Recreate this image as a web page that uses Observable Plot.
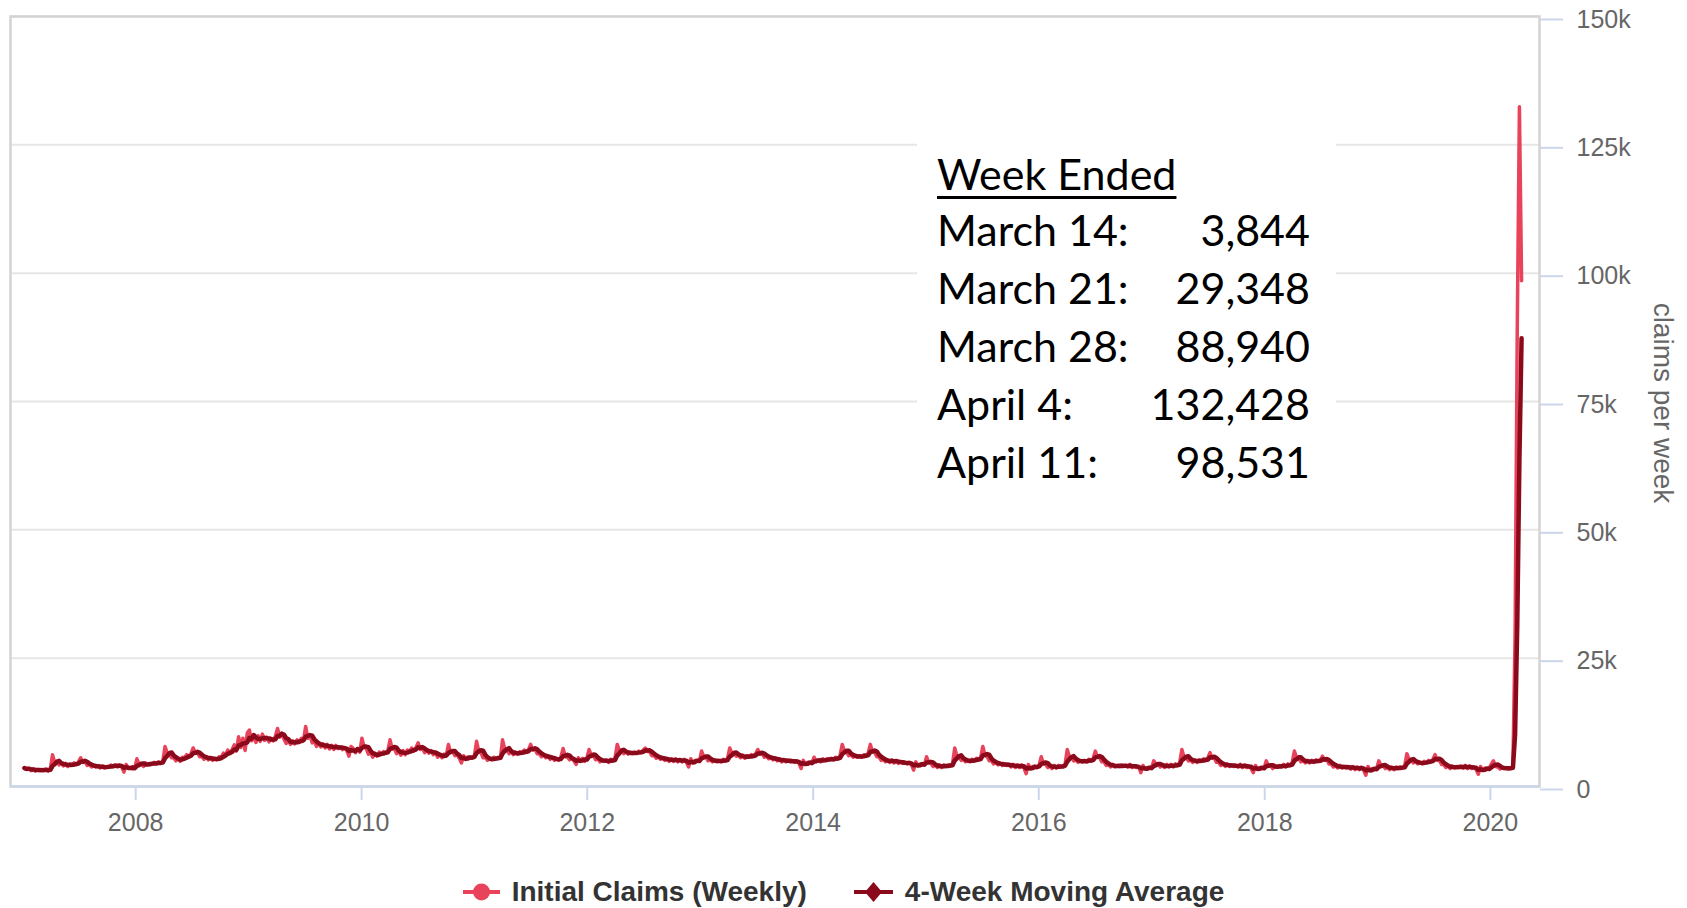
<!DOCTYPE html>
<html>
<head>
<meta charset="utf-8">
<script src="https://cdn.jsdelivr.net/npm/d3@7"></script>
<script src="https://cdn.jsdelivr.net/npm/@observablehq/plot@0.6"></script>
<style>
  html, body { margin: 0; padding: 0; background: #fff; }
  #wrap { position: relative; width: 1687px; height: 908px; overflow: hidden; font-family: "Liberation Sans", Arial, sans-serif; }
  #chart svg { display: block; }
  #ytitle { position: absolute; left: 1663px; top: 403px; transform: translate(-50%, -50%); writing-mode: vertical-rl; font-size: 28px; line-height: 1; color: #666; white-space: nowrap; }
  #note { position: absolute; left: 917px; top: 120px; width: 419px; height: 385px; background: #fff; box-sizing: border-box; padding: 25px 0 0 20px; font-family: Lato, "Open Sans", sans-serif; font-size: 43px; line-height: 58px; color: #000; }
  #note .grid { display: grid; grid-template-columns: auto 1fr; width: 373px; }
  #note .head { grid-column: 1 / span 2; text-decoration: underline; text-decoration-thickness: 3px; text-underline-offset: 6px; margin-bottom: -2px; }
  #note .val { text-align: right; }
  #legend { position: absolute; left: 0; top: 872px; width: 1687px; height: 40px; display: flex; justify-content: center; align-items: center; font-weight: bold; font-size: 28px; color: #333; }
  #legend .item { display: flex; align-items: center; }
  #legend .item svg { margin-right: 12px; }
  #legend .item + .item { margin-left: 47px; }
</style>
</head>
<body>
<div id="wrap">
  <div id="chart"></div>
  <div id="ytitle"></div>
  <div id="note"><div class="grid"></div></div>
  <div id="legend"></div>
</div>
<script>
// Weekly initial claims, in thousands, one value per week ending Saturday, starting 2007-01-06
const firstWeekEnding = "2007-01-06";
const claimsK2007 = [3.6,3.3,3.5,3.1, 3.4,3.0,3.3,3.1, 3.3,3.1,3.4,3.0,3.5, 6.2,4.7,4.9,4.2, 4.5,4.0,4.5,3.9,4.4, 4.1,4.6,4.3,4.8, 5.6,4.7,4.9,4.1, 4.3,3.8,4.1,3.8,4.0, 3.6,4.0,3.6,3.9, 3.8,4.2,3.9,4.2,3.8, 4.2,3.8,2.8,4.3, 3.6,3.7,3.4,3.6];
const claimsK2008 = [5.4,4.3,4.4,3.9, 4.6,4.3,4.5,4.4, 4.7,4.4,4.8,4.5,5.0, 7.8,6.5,6.6,5.6, 5.6,5.0,5.5,4.9,5.7, 5.6,6.2,5.8,6.4, 7.5,6.5,6.6,5.8, 5.9,5.3,5.8,5.2,5.7, 5.1,5.5,5.2,5.8, 5.7,6.5,6.2,7.1,6.4, 7.2,8.1,6.9,9.7, 7.6,9.4,7.0,10.4];
const claimsK2009 = [11.0,8.9,9.8,8.6, 9.9,8.8,10.2,9.0, 9.6,8.7,9.4,8.9,9.8, 11.3,9.6,10.4,9.2, 8.4,9.0,8.2,8.9,8.3, 9.1,8.6,9.4,9.0, 11.7,9.4,10.0,8.5, 8.9,7.8,8.5,7.7,8.3, 7.5,8.2,7.3,8.0, 7.2,8.0,7.4,7.7,7.2, 7.6,7.0,5.9,7.8, 7.4,6.6,7.4,6.7];
const claimsK2010 = [9.4,7.6,7.4,6.3, 6.6,5.7,6.5,5.9, 6.7,6.3,6.8,6.5,7.0, 9.1,7.3,7.4,6.4, 6.9,6.1,7.0,6.2,7.1, 6.8,7.5,6.9,7.6, 8.5,7.2,7.4,6.6, 7.1,6.5,7.0,6.2,6.7, 5.7,6.2,5.6,6.3, 6.0,8.2,6.6,6.8,6.0, 6.2,5.5,4.6,6.0, 5.4,5.8,5.5,5.7];
const claimsK2011 = [6.0,8.8,6.9,6.6,5.6, 5.7,5.1,5.4,5.2, 5.7,5.4,5.7,5.5, 9.1,7.3,7.1,6.4,6.8, 6.2,6.7,6.3,6.8, 6.5,7.1,6.7,7.2, 8.2,7.1,7.3,6.4,6.4, 5.8,6.2,5.6,5.9, 5.3,5.7,5.1,5.4, 5.1,5.8,7.4,5.8,5.7, 5.2,5.5,5.0,4.3, 5.6,5.0,5.5,4.9,5.6];
const claimsK2012 = [7.2,6.1,6.0,5.2, 5.4,4.8,5.1,4.9, 5.2,4.7,5.3,5.0,5.6, 8.2,7.0,7.1,6.4, 6.8,6.3,6.7,6.4,6.7, 6.4,6.9,6.6,7.1, 7.5,6.8,6.8,6.0, 6.1,5.5,5.8,5.3,5.6, 5.1,5.4,4.9,5.4, 4.9,5.4,4.8,5.3,4.8, 5.3,4.7,3.8,5.4, 4.8,5.1,4.9,5.0];
const claimsK2013 = [6.9,5.8,5.7,5.0, 5.3,4.8,5.1,4.8, 5.1,4.8,5.3,5.0,5.5, 7.5,6.5,6.6,5.9, 6.1,5.6,6.1,5.5,6.0, 5.7,6.2,5.9,6.4, 7.2,6.3,6.4,5.7, 5.9,5.4,5.7,5.2,5.5, 5.0,5.3,4.8,5.3, 4.8,5.1,4.8,5.0,4.7, 5.0,4.5,3.5,5.1, 4.4,4.7,4.5,4.6];
const claimsK2014 = [5.7,4.9,5.1,4.8, 5.4,5.1,5.4,5.2, 5.5,5.2,5.7,5.4,6.0, 8.2,6.9,6.8,6.0, 6.2,5.7,6.0,5.7,6.0, 5.7,6.2,6.0,6.5, 8.2,6.7,6.6,5.8, 5.8,5.1,5.3,4.8,5.1, 4.7,5.2,4.6,5.1, 4.5,4.8,4.5,4.7,4.4, 4.7,4.2,3.2,4.8, 4.1,4.4,4.2,4.3];
const claimsK2015 = [5.8,4.6,4.5,3.9, 4.2,3.7,4.2,3.7, 4.2,3.9,4.2,4.0,4.5, 7.5,5.9,5.8,5.1, 5.3,4.8,5.1,4.8,5.3, 5.0,5.5,5.2,5.7, 7.8,6.0,5.8,5.0, 5.0,4.4,4.7,4.2,4.5, 4.1,4.4,4.1,4.3, 3.8,4.3,3.7,4.2,3.7, 4.2,3.6,2.5,4.3, 3.6,3.9,3.7,3.8];
const claimsK2016 = [4.2,5.8,4.4,4.3,3.7, 4.0,3.5,4.1,3.6, 4.1,3.8,4.0,4.3, 7.2,5.8,5.7,5.0,5.2, 4.7,5.0,4.8,5.1, 4.8,5.3,5.0,5.5, 6.9,5.7,5.6,4.8,4.8, 4.1,4.3,3.8,4.3, 3.8,4.1,3.9,4.2, 3.9,4.1,3.8,4.3,3.7, 4.0,3.7,3.9,2.7, 4.1,3.4,3.7,3.5,3.7];
const claimsK2017 = [5.0,4.4,4.4,3.8, 4.2,3.7,4.3,3.8, 4.3,3.8,4.4,4.1,4.7, 7.2,5.7,5.7,5.0, 5.2,4.7,5.2,4.7,5.2, 4.9,5.4,5.1,5.6, 6.6,5.5,5.5,4.7, 4.7,4.1,4.4,3.9,4.4, 3.9,4.2,3.9,4.1, 3.8,4.3,3.7,4.2,3.7, 4.0,3.5,2.7,4.1, 3.4,3.7,3.5,3.6];
const claimsK2018 = [5.0,4.0,4.0,3.5, 4.1,3.8,4.1,3.8, 4.3,3.8,4.4,4.1,4.7, 6.9,5.6,5.5,4.8, 5.1,4.6,5.1,4.6,5.1, 4.7,5.2,4.9,5.2, 5.9,5.1,5.2,4.4, 4.4,3.8,4.1,3.6,4.1, 3.6,3.9,3.6,3.9, 3.4,3.9,3.3,3.8,3.3, 3.8,3.2,2.2,3.9, 3.2,3.5,3.3,3.4];
const claimsK2019 = [5.0,4.1,4.1,3.5, 3.8,3.3,3.8,3.3, 3.8,3.5,3.8,3.6,4.1, 6.4,5.2,5.2,4.6, 4.9,4.4,4.7,4.4,4.9, 4.6,5.1,4.8,5.3, 6.2,5.1,5.1,4.3, 4.3,3.7,4.0,3.5,4.0, 3.6,3.9,3.7,4.0, 3.6,4.1,3.5,4.0,3.5, 3.8,3.3,2.4,3.9, 3.2,3.6,3.3,3.5];
const claimsK2020 = [4.4,5.0,3.9,3.8, 3.4,3.7,3.5,3.7,3.4, 3.6,3.844,29.348,88.94, 132.428,98.531];

const yTicks = [0, 25000, 50000, 75000, 100000, 125000, 150000];
const xTickYears = ["2008", "2010", "2012", "2014", "2016", "2018", "2020"];
const xDomain = ["2006-11-22", "2020-06-08"];

const seriesNames = ["Initial Claims (Weekly)", "4-Week Moving Average"];
const seriesColors = ["#e8435a", "#8a0a1c"];
const yTitle = "claims per week";

const noteTitle = "Week Ended";
const noteWeeks = ["March 14:", "March 21:", "March 28:", "April 4:", "April 11:"];
const noteValues = ["3,844", "29,348", "88,940", "132,428", "98,531"];

// Build the table
const allK = [].concat(claimsK2007, claimsK2008, claimsK2009, claimsK2010, claimsK2011, claimsK2012,
  claimsK2013, claimsK2014, claimsK2015, claimsK2016, claimsK2017, claimsK2018, claimsK2019, claimsK2020);
const start = new Date(firstWeekEnding + "T00:00:00Z");
const data = allK.map((v, i) => ({date: d3.utcDay.offset(start, 7 * i), claims: v * 1000}));

const chart = Plot.plot({
  width: 1687,
  height: 872,
  marginTop: 16,
  marginBottom: 86,
  marginLeft: 10,
  marginRight: 148,
  style: {fontFamily: '"Liberation Sans", Arial, sans-serif', background: "#fff"},
  x: {type: "utc", domain: xDomain.map(d => new Date(d + "T00:00:00Z"))},
  y: {domain: [0, 150000]},
  marks: [
    Plot.gridY(yTicks, {stroke: "#e6e6e6", strokeOpacity: 1, strokeWidth: 2}),
    Plot.frame({stroke: "#d3d3d3", strokeWidth: 2.5}),
    Plot.ruleY([0], {stroke: "#ccd6eb", strokeWidth: 2.5}),
    Plot.axisX(xTickYears.map(y => new Date(y + "-01-01T00:00:00Z")), {
      tickSize: 14, tickPadding: 13, stroke: "#ccd6eb", strokeWidth: 2, fill: "#666",
      fontSize: 25, tickFormat: d3.utcFormat("%Y"), label: null
    }),
    Plot.axisY(yTicks, {
      anchor: "right", tickSize: 23, tickPadding: 14, stroke: "#ccd6eb", strokeWidth: 2, fill: "#666",
      fontSize: 25, dy: 3, tickFormat: d => d === 0 ? "0" : (d / 1000) + "k", label: null
    }),
    Plot.lineY(data, {x: "date", y: "claims", stroke: seriesColors[0], strokeWidth: 3.5, strokeLinejoin: "round"}),
    Plot.lineY(data, Plot.windowY({k: 4, anchor: "end", reduce: "mean"},
      {x: "date", y: "claims", stroke: seriesColors[1], strokeWidth: 4.5, strokeLinejoin: "round"}))
  ]
});
document.getElementById("chart").appendChild(chart);

document.getElementById("ytitle").textContent = yTitle;

// Annotation text box
const grid = document.querySelector("#note .grid");
const head = document.createElement("div");
head.className = "head";
head.textContent = noteTitle;
grid.appendChild(head);
noteWeeks.forEach((w, i) => {
  const a = document.createElement("div"); a.textContent = w; grid.appendChild(a);
  const b = document.createElement("div"); b.className = "val"; b.textContent = noteValues[i]; grid.appendChild(b);
});

// Legend
const legend = document.getElementById("legend");
seriesNames.forEach((name, i) => {
  const item = document.createElement("div");
  item.className = "item";
  const sym = i === 0
    ? `<svg width="37" height="20"><line x1="0" y1="10" x2="37" y2="10" stroke="${seriesColors[i]}" stroke-width="4"/><circle cx="18.5" cy="10" r="8.5" fill="${seriesColors[i]}"/></svg>`
    : `<svg width="39" height="22"><line x1="0" y1="11" x2="39" y2="11" stroke="${seriesColors[i]}" stroke-width="4"/><path d="M19.5 1 L28 11 L19.5 21 L11 11 Z" fill="${seriesColors[i]}"/></svg>`;
  item.innerHTML = sym + `<span>${name}</span>`;
  legend.appendChild(item);
});
</script>
</body>
</html>
